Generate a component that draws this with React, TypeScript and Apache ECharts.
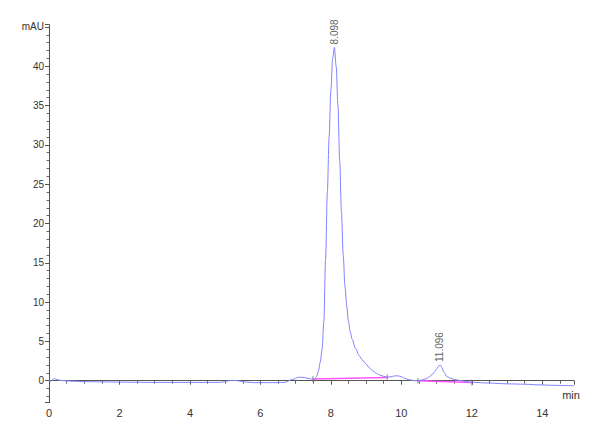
import { useRef, useEffect } from "react";
import * as echarts from "echarts";

// chromatogram trace (min, mAU)
const times = [
  0, 0.05, 0.15, 0.3, 0.6, 1.0, 1.5, 2.0, 2.5, 3.0, 3.5, 4.0, 4.5, 4.9, 5.05,
  5.2, 5.35, 5.55, 5.8, 6.2, 6.5, 6.7, 6.9, 7.1, 7.25, 7.4, 7.5, 7.55, 7.6, 7.65,
  7.7, 7.75, 7.8, 7.85, 7.9, 7.95, 8.0, 8.05, 8.1, 8.15, 8.2, 8.25, 8.3, 8.35, 8.4,
  8.45, 8.5, 8.55, 8.6, 8.7, 8.8, 8.9, 9.0, 9.1, 9.2, 9.3, 9.4, 9.5, 9.6, 9.7,
  9.8, 9.9, 10.0, 10.1, 10.2, 10.3, 10.45, 10.6, 10.7, 10.8, 10.9, 10.95, 11.0, 11.05, 11.1,
  11.15, 11.2, 11.3, 11.4, 11.5, 11.7, 11.9, 12.0, 12.5, 13.0, 13.5, 14.0, 14.5, 14.9,
];
const absorbance = [
  0.0, -0.05, 0.25, 0.05, -0.05, -0.12, -0.15, -0.18, -0.2, -0.22, -0.22, -0.22, -0.22, -0.2, -0.05,
  0.05, 0.0, -0.15, -0.25, -0.25, -0.25, -0.2, 0.15, 0.45, 0.4, 0.25, 0.2, 0.3, 0.6, 1.3,
  2.4, 4.0, 7.5, 15.5, 24, 31, 37, 41, 42.4, 40, 35, 28, 21.5, 16, 12,
  9.5, 7.5, 6.2, 5.3, 4.1, 3.2, 2.6, 2.1, 1.6, 1.2, 0.9, 0.7, 0.55, 0.45, 0.5,
  0.6, 0.62, 0.5, 0.3, 0.15, 0.05, 0.0, 0.1, 0.25, 0.5, 0.9, 1.15, 1.5, 1.85, 2.0,
  1.7, 1.1, 0.5, 0.3, 0.15, 0.0, -0.15, -0.2, -0.3, -0.4, -0.45, -0.55, -0.6, -0.65,
];

// integration baselines
const baseA_t = [7.49, 9.6];
const baseA_v = [0.22, 0.4];
const baseB_t = [10.47, 12.0];
const baseB_v = [0.0, -0.22];

// peak apex labels
const peakTimes = [8.098, 11.096];
const peakHeights = [42.4, 2.0];
const peakNames = ["8.098", "11.096"];

// unit shown in place of the top tick label
const yUnit = "mAU";
const yUnitTick = 45;

const font = "'Liberation Sans Narrow', 'Liberation Sans', Arial, sans-serif";

const zip = (a: number[], b: number[]) => a.map((x, i) => [x, b[i]]);

const option = {
  animation: false,
  backgroundColor: "#fff",
  grid: { left: 49, right: 26, top: 24.6, bottom: 37.3, containLabel: false },
  xAxis: {
    type: "value",
    min: 0,
    max: 14.9,
    interval: 2,
    name: "min",
    nameLocation: "end",
    nameGap: -3,
    nameTextStyle: { color: "#333", fontSize: 11, fontFamily: font, align: "center", verticalAlign: "top", padding: [9, 0, 0, 0] },
    axisLine: { lineStyle: { color: "#555", width: 1 } },
    axisTick: { length: 4, lineStyle: { color: "#555" } },
    minorTick: { show: true, splitNumber: 4, length: 3, lineStyle: { color: "#666" } },
    axisLabel: { color: "#333", fontSize: 11, fontFamily: font, margin: 5, showMaxLabel: false },
    splitLine: { show: false },
  },
  yAxis: {
    type: "value",
    min: -2.8,
    max: 45.3,
    splitNumber: 10,
    minInterval: 5,
    maxInterval: 5,
    axisLine: { show: true, lineStyle: { color: "#555", width: 1 } },
    axisTick: { show: true, length: 4, lineStyle: { color: "#555" } },
    minorTick: { show: true, splitNumber: 5, length: 2.5, lineStyle: { color: "#666" } },
    axisLabel: {
      color: "#333",
      fontSize: 10,
      fontFamily: font,
      margin: 5,
      showMinLabel: false,
      showMaxLabel: false,
      formatter: (v: number) => (v === yUnitTick ? yUnit : String(v)),
    },
    splitLine: { show: false },
  },
  series: [
    {
      type: "line",
      data: zip(times, absorbance),
      showSymbol: false,
      smooth: 0.3,
      smoothMonotone: "x",
      lineStyle: { color: "#8080ff", width: 1 },
      z: 3,
    },
    {
      type: "line",
      data: zip(baseA_t, baseA_v),
      showSymbol: false,
      lineStyle: { color: "#ff55ff", width: 1.5 },
      z: 2,
    },
    {
      type: "line",
      data: zip(baseB_t, baseB_v),
      showSymbol: false,
      lineStyle: { color: "#ff55ff", width: 1.5 },
      z: 2,
    },
    {
      // little drop marks at the baseline ends
      type: "scatter",
      data: [...zip(baseA_t, baseA_v), ...zip(baseB_t, baseB_v)],
      symbol: "rect",
      symbolSize: [1, 6],
      itemStyle: { color: "#777" },
      z: 4,
    },
    {
      type: "scatter",
      data: peakTimes.map((t, i) => ({ value: [t, peakHeights[i]], name: peakNames[i] })),
      symbolSize: 0,
      label: {
        show: true,
        formatter: (p: any) => p.name,
        position: "top",
        distance: 3,
        rotate: 90,
        align: "left",
        verticalAlign: "middle",
        color: "#333",
        fontSize: 10,
        fontFamily: font,
      },
      z: 5,
    },
  ],
};

const App = () => {
  const chartRef = useRef<HTMLDivElement>(null);

  useEffect(() => {
    const myChart = echarts.init(chartRef.current, null, { renderer: "svg" });
    myChart.setOption(option as any);
    return () => {
      myChart.dispose();
    };
  }, []);

  return (
    <div
      ref={chartRef}
      style={{ position: "absolute", left: 0, top: 0, width: "600px", height: "440px" }}
    ></div>
  );
};

export default App;
